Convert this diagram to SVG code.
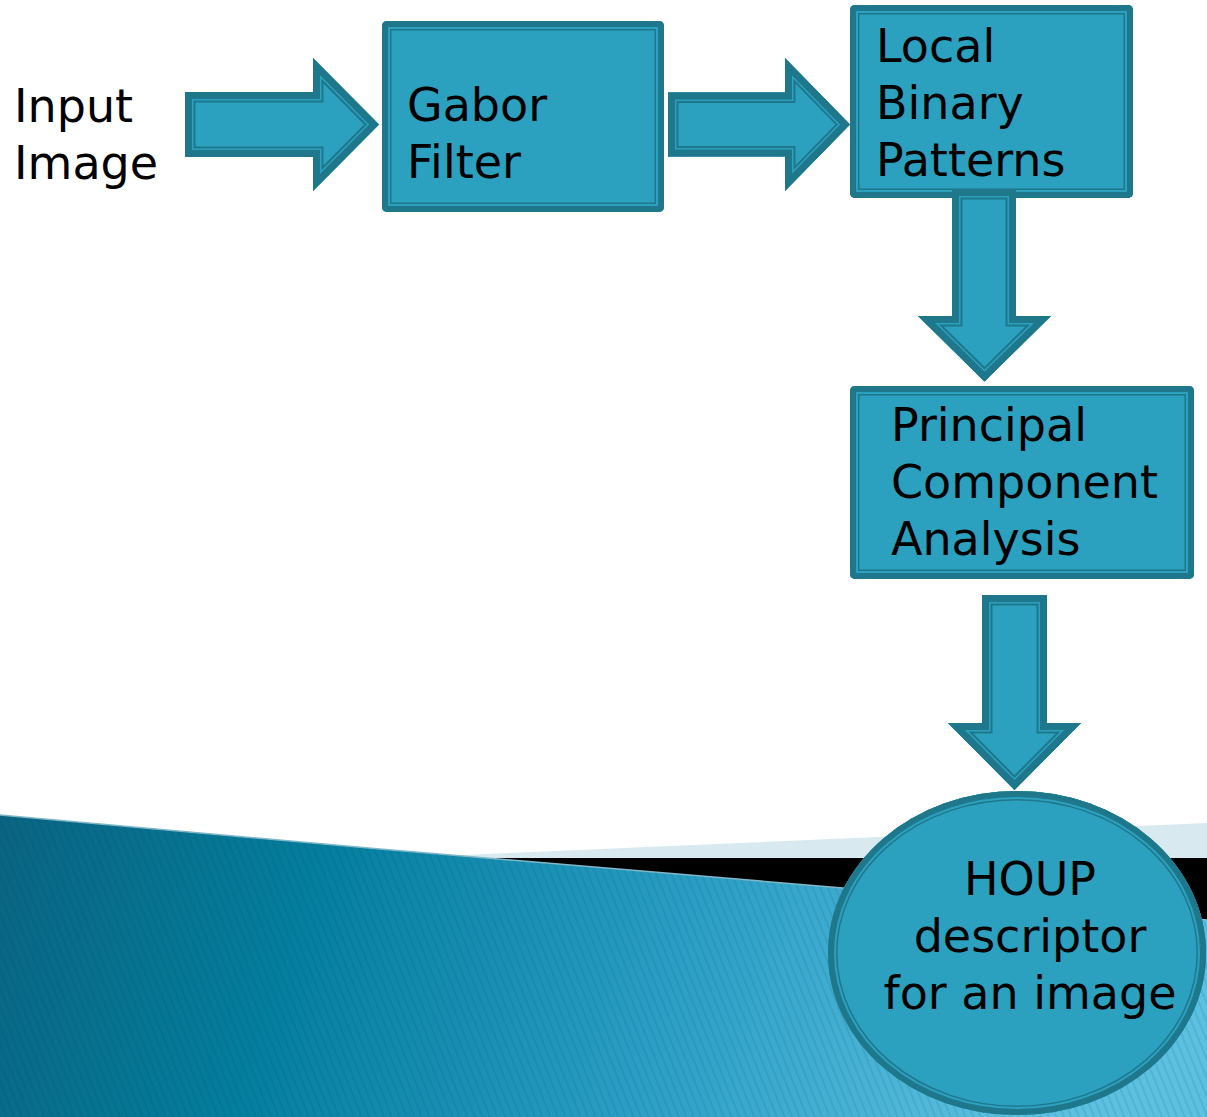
<svg xmlns="http://www.w3.org/2000/svg" xmlns:xlink="http://www.w3.org/1999/xlink" width="1207" height="1117" viewBox="0 0 1207 1117">
<style>
.lbl{font-family:"DejaVu Sans","Verdana",sans-serif;font-size:46px;fill:#000}
.mid{text-anchor:middle}
.f{fill:#2BA1BF;stroke:none}
.b1{fill:none;stroke:#1F778B;stroke-width:19;stroke-linejoin:miter}
.b2{fill:none;stroke:#2BA1BF;stroke-width:16;stroke-linejoin:miter}
.b3{fill:none;stroke:#1F778B;stroke-width:12;stroke-linejoin:miter}
.a1{fill:none;stroke:#1F778B;stroke-width:21;stroke-linejoin:miter}
.a2{fill:none;stroke:#2BA1BF;stroke-width:17;stroke-linejoin:miter}
.a3{fill:none;stroke:#1F778B;stroke-width:14;stroke-linejoin:miter}
</style>
<defs>
<linearGradient id="bg" gradientUnits="userSpaceOnUse" x1="0" y1="820" x2="1000" y2="1150">
<stop offset="0" stop-color="#0A6481"/>
<stop offset="0.3" stop-color="#047E9E"/>
<stop offset="0.65" stop-color="#2A9EC4"/>
<stop offset="1" stop-color="#5CC0E0"/>
</linearGradient>
<pattern id="stripes" patternUnits="userSpaceOnUse" width="7" height="40" patternTransform="rotate(-22)">
<line x1="1" y1="0" x2="1" y2="40" stroke="#003848" stroke-opacity="0.16" stroke-width="1.2"/>
</pattern>
<rect id="sGabor" x="382" y="21" width="282" height="191" rx="5"/>
<rect id="sLbp" x="850" y="5" width="283" height="193" rx="5"/>
<rect id="sPca" x="850" y="386" width="344" height="193" rx="5"/>
<ellipse id="sHoup" cx="1017" cy="953" rx="189" ry="162"/>
<path id="pA1" d="M185,92 H313 V58 L379,124.5 L313,191 V157 H185 Z"/>
<path id="pA2" d="M668,92.5 H785 V58 L850,124.5 L785,191 V156.5 H668 Z"/>
<path id="pA3" d="M952,189 H1016 V316 H1051 L984.5,381.5 L918,316 H952 Z"/>
<path id="pA4" d="M982,595 H1047 V723 H1081 L1014.5,790 L948,723 H982 Z"/>
<clipPath id="cGabor"><use xlink:href="#sGabor"/></clipPath>
<clipPath id="cLbp"><use xlink:href="#sLbp"/></clipPath>
<clipPath id="cPca"><use xlink:href="#sPca"/></clipPath>
<clipPath id="cHoup"><use xlink:href="#sHoup"/></clipPath>
<clipPath id="cA1"><use xlink:href="#pA1"/></clipPath>
<clipPath id="cA2"><use xlink:href="#pA2"/></clipPath>
<clipPath id="cA3"><use xlink:href="#pA3"/></clipPath>
<clipPath id="cA4"><use xlink:href="#pA4"/></clipPath>
</defs>
<rect width="1207" height="1117" fill="#FFFFFF"/>
<g id="background">
<polygon points="392,858 1207,823 1207,858" fill="#D8EAF0"/>
<polygon points="440,858 1207,858 1207,945 440,945" fill="#000000"/>
<polygon points="0,815 380,849 843,888 1207,920 1207,1117 0,1117" fill="url(#bg)"/>
<polygon points="0,815 380,849 843,888 1207,920 1207,1117 0,1117" fill="url(#stripes)"/>
<polyline points="0,815 380,849 843,888 1207,920" fill="none" stroke="#7FB8C8" stroke-width="1.5"/>
</g>
<g id="input-image">
<text class="lbl" x="14" y="122">Input</text>
<text class="lbl" x="14" y="179">Image</text>
</g>
<g id="gabor-filter">
<g clip-path="url(#cGabor)">
<use xlink:href="#sGabor" class="f"/>
<use xlink:href="#sGabor" class="b1"/>
<use xlink:href="#sGabor" class="b2"/>
<use xlink:href="#sGabor" class="b3"/>
</g>
<text class="lbl" x="407" y="121">Gabor</text>
<text class="lbl" x="407" y="178">Filter</text>
</g>
<g id="local-binary-patterns">
<g clip-path="url(#cLbp)">
<use xlink:href="#sLbp" class="f"/>
<use xlink:href="#sLbp" class="b1"/>
<use xlink:href="#sLbp" class="b2"/>
<use xlink:href="#sLbp" class="b3"/>
</g>
<text class="lbl" x="876" y="62">Local</text>
<text class="lbl" x="876" y="119">Binary</text>
<text class="lbl" x="876" y="176">Patterns</text>
</g>
<g id="pca">
<g clip-path="url(#cPca)">
<use xlink:href="#sPca" class="f"/>
<use xlink:href="#sPca" class="b1"/>
<use xlink:href="#sPca" class="b2"/>
<use xlink:href="#sPca" class="b3"/>
</g>
<text class="lbl" x="891" y="441">Principal</text>
<text class="lbl" x="891" y="498">Component</text>
<text class="lbl" x="891" y="555">Analysis</text>
</g>
<g id="houp-descriptor">
<g clip-path="url(#cHoup)">
<use xlink:href="#sHoup" class="f"/>
<use xlink:href="#sHoup" class="b1"/>
<use xlink:href="#sHoup" class="b2"/>
<use xlink:href="#sHoup" class="b3"/>
</g>
<text class="lbl mid" x="1030" y="895">HOUP</text>
<text class="lbl mid" x="1030" y="952">descriptor</text>
<text class="lbl mid" x="1030" y="1009">for an image</text>
</g>
<g id="connectors">
<g clip-path="url(#cA1)">
<use xlink:href="#pA1" class="f"/><use xlink:href="#pA1" class="a1"/><use xlink:href="#pA1" class="a2"/><use xlink:href="#pA1" class="a3"/>
</g>
<g clip-path="url(#cA2)">
<use xlink:href="#pA2" class="f"/><use xlink:href="#pA2" class="a1"/><use xlink:href="#pA2" class="a2"/><use xlink:href="#pA2" class="a3"/>
</g>
<g clip-path="url(#cA3)">
<use xlink:href="#pA3" class="f"/><use xlink:href="#pA3" class="a1"/><use xlink:href="#pA3" class="a2"/><use xlink:href="#pA3" class="a3"/>
</g>
<g clip-path="url(#cA4)">
<use xlink:href="#pA4" class="f"/><use xlink:href="#pA4" class="a1"/><use xlink:href="#pA4" class="a2"/><use xlink:href="#pA4" class="a3"/>
</g>
</g>
</svg>
